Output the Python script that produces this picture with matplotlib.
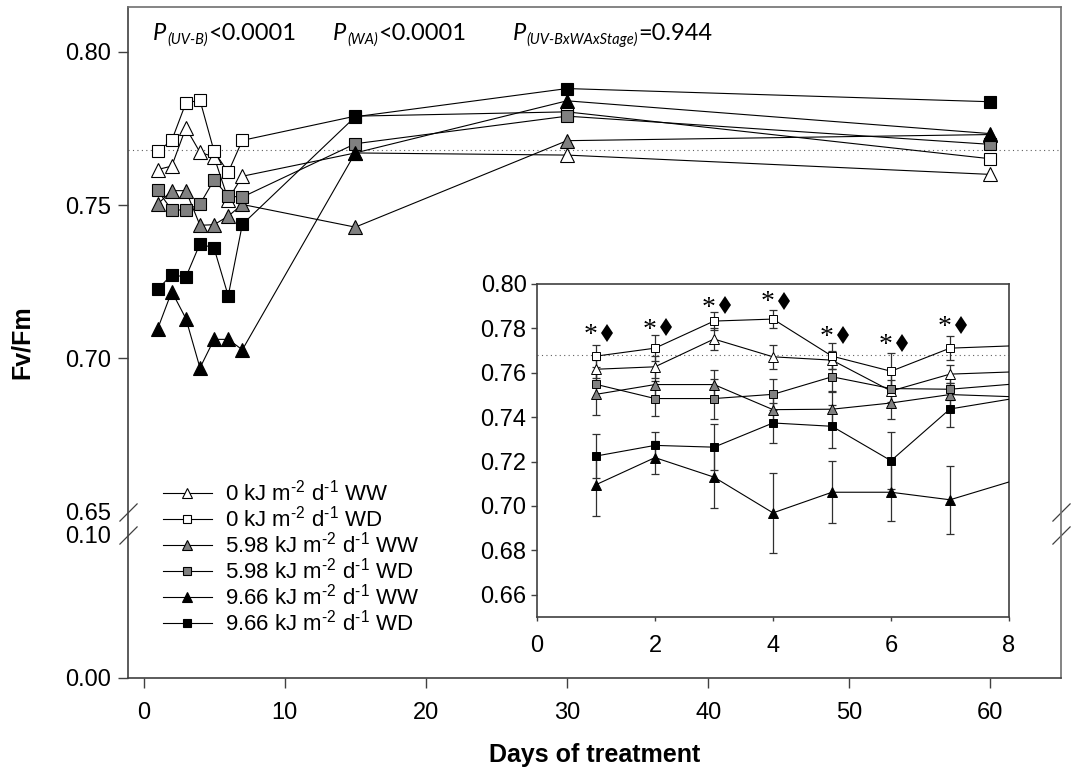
import numpy as np
import matplotlib
matplotlib.use("Agg")
import matplotlib.pyplot as plt

plt.rcParams['font.family'] = ['Liberation Sans', 'DejaVu Sans']
plt.rcParams['mathtext.fontset'] = 'custom'
plt.rcParams['mathtext.rm'] = 'Liberation Sans'
plt.rcParams['mathtext.it'] = 'Liberation Sans:italic'
plt.rcParams['axes.unicode_minus'] = False

# data
days = [1, 2, 3, 4, 5, 6, 7, 15, 30, 60]

ww_0 = [0.7616, 0.7627, 0.7752, 0.7672, 0.7657, 0.7518, 0.7594, 0.7670, 0.7663, 0.7600]
wd_0 = [0.7675, 0.7711, 0.7833, 0.7842, 0.7675, 0.7607, 0.7711, 0.7790, 0.7804, 0.7651]
ww_598 = [0.7503, 0.7547, 0.7547, 0.7434, 0.7436, 0.7464, 0.7502, 0.7428, 0.7710, 0.7730]
wd_598 = [0.7548, 0.7484, 0.7484, 0.7503, 0.7582, 0.7529, 0.7526, 0.7700, 0.7790, 0.7698]
ww_966 = [0.7096, 0.7218, 0.7130, 0.6969, 0.7062, 0.7062, 0.7028, 0.7670, 0.7840, 0.7733]
wd_966 = [0.7225, 0.7273, 0.7265, 0.7374, 0.7359, 0.7204, 0.7437, 0.7788, 0.7880, 0.7837]

# standard errors, days 1-7 (inset)
se_ww_0 = [0.0040, 0.0050, 0.0050, 0.0055, 0.0040, 0.0050, 0.0040]
se_wd_0 = [0.0050, 0.0060, 0.0042, 0.0039, 0.0060, 0.0080, 0.0054]
se_ww_598 = [0.0095, 0.0060, 0.0065, 0.0070, 0.0080, 0.0070, 0.0050]
se_wd_598 = [0.0060, 0.0080, 0.0090, 0.0070, 0.0070, 0.0080, 0.0050]
se_ww_966 = [0.0139, 0.0073, 0.0138, 0.0180, 0.0140, 0.0130, 0.0153]
se_wd_966 = [0.0100, 0.0060, 0.0103, 0.0090, 0.0096, 0.0129, 0.0080]

labels = [r"0 kJ m$^{\text{-}2}$ d$^{\text{-}1}$ WW", r"0 kJ m$^{\text{-}2}$ d$^{\text{-}1}$ WD",
          r"5.98 kJ m$^{\text{-}2}$ d$^{\text{-}1}$ WW", r"5.98 kJ m$^{\text{-}2}$ d$^{\text{-}1}$ WD",
          r"9.66 kJ m$^{\text{-}2}$ d$^{\text{-}1}$ WW", r"9.66 kJ m$^{\text{-}2}$ d$^{\text{-}1}$ WD"]

# significance marks in the inset
sig_days = [1, 2, 3, 4, 5, 6, 7]
star_y = [0.7801, 0.7824, 0.7923, 0.7950, 0.7792, 0.7756, 0.7837]
diam_y = [0.7779, 0.7806, 0.7905, 0.7923, 0.7770, 0.7734, 0.7815]

ref_line = 0.768

p_texts = [("(UV-B)", "<0.0001"), ("(WA)", "<0.0001"), ("(UV-BxWAxStage)", "=0.944")]

series = [
    (ww_0, se_ww_0, '^', 'white'),
    (wd_0, se_wd_0, 's', 'white'),
    (ww_598, se_ww_598, '^', '#808080'),
    (wd_598, se_wd_598, 's', '#808080'),
    (ww_966, se_ww_966, '^', 'black'),
    (wd_966, se_wd_966, 's', 'black'),
]

# broken y axis: 0-0.10 and 0.65-0.82 on one axes
xp = [-1.0, 0.0, 0.10, 0.65, 2.0]
fp = [-1430.0, 0.0, 143.0, 166.0, 166.0 + 1.35 * 3060.0]


def fwd(v):
    return np.interp(v, xp, fp)


def inv(u):
    return np.interp(u, fp, xp)


spine_col = '#404040'

fig = plt.figure(figsize=(10.72, 7.81), dpi=100)
ax = fig.add_axes([128 / 1072, 103 / 781, 933 / 1072, 671 / 781])
ax.set_yscale('function', functions=(fwd, inv))

for (vals, se, mk, fc), lab in zip(series, labels):
    ax.plot(days, vals, color='black', lw=0.8, marker=mk,
            ms=10 if mk == '^' else 8, mfc=fc, mec='black', mew=0.8, label=lab)

ax.axhline(ref_line, ls=(0, (1, 3)), color='#606060', lw=0.8, zorder=0)

ax.set_xlim(-1.1, 65)
ax.set_ylim(0, 0.8146)
ax.set_xticks(range(0, 61, 10))
ax.set_yticks([0.0, 0.10, 0.65, 0.70, 0.75, 0.80])
ax.set_yticklabels(["0.00", "0.10", "0.65", "0.70", "0.75", "0.80"])
for t in ax.yaxis.get_major_ticks()[1:3]:
    t.tick1line.set_visible(False)
ax.tick_params(axis='x', labelsize=17, length=7, width=1, color=spine_col, pad=10)
ax.tick_params(axis='y', labelsize=17, length=7, width=1, color=spine_col, pad=5)
for name, sp in ax.spines.items():
    sp.set_color(spine_col if name in ('left', 'bottom') else '#707070')
    sp.set_linewidth(1.2)

# break marks on both sides
brk = dict(marker=[(-1, -1), (1, 1)], markersize=13, linestyle='none',
           color=spine_col, mec=spine_col, mew=0.9, clip_on=False)
ax.plot([0, 0, 1, 1], [0.65, 0.10, 0.65, 0.10], transform=ax.get_yaxis_transform(), **brk)

ax.set_xlabel("Days of treatment", fontsize=18, fontweight='bold', labelpad=14)
fig.text(22 / 1072, 1 - 342 / 781, "Fv/Fm", rotation=90, fontsize=18,
         fontweight='bold', ha='center', va='center')

# P values at the top
p_x = [0.027, 0.220, 0.412]
for px, (sub, rest) in zip(p_x, p_texts):
    t = ax.text(px, 0.945, "P", transform=ax.transAxes, fontsize=17,
                family='Lato', fontstyle='italic', va='bottom')
    s = ax.annotate(sub, xy=(1, 0), xycoords=t, xytext=(0.5, 0), textcoords='offset points',
                    fontsize=10.5, family='Lato', fontstyle='italic', va='baseline')
    ax.annotate(rest, xy=(1, 0), xycoords=(s, t), fontsize=17, family='Lato', va='bottom')

leg = ax.legend(loc='upper left', bbox_to_anchor=(163 / 1072, 1 - 480 / 781),
                bbox_transform=fig.transFigure, frameon=False, fontsize=16,
                handlelength=2.2, handletextpad=0.6, labelspacing=0.0,
                borderpad=0, borderaxespad=0, markerscale=0.75)

# inset with days 0-8
ins = fig.add_axes([537 / 1072, 164 / 781, 472 / 1072, 333 / 781])
for vals, se, mk, fc in series:
    ins.errorbar(days[:7], vals[:7], yerr=se, fmt='none', ecolor='#303030',
                 elinewidth=0.9, capsize=3, capthick=0.9, zorder=2)
for vals, se, mk, fc in series:
    ins.plot(days, vals, color='black', lw=0.8, marker=mk,
             ms=7 if mk == '^' else 6, mfc=fc, mec='black', mew=0.7, zorder=3)
ins.axhline(ref_line, ls=(0, (1, 3)), color='#606060', lw=0.8, zorder=1)

for d, sy, dy in zip(sig_days, star_y, diam_y):
    ins.annotate("*", xy=(d - 0.1, sy), xytext=(0, -10), textcoords='offset points',
                 ha='center', va='baseline', fontsize=20, family='Liberation Serif')
    ins.plot(d + 0.18, dy, marker='d', ms=9.5, mew=0, color='black', zorder=4)

ins.set_xlim(0, 8)
ins.set_ylim(0.65, 0.80)
ins.set_xticks([0, 2, 4, 6, 8])
ins.set_yticks(np.arange(0.66, 0.801, 0.02))
ins.yaxis.set_major_formatter(matplotlib.ticker.FormatStrFormatter('%.2f'))
ins.tick_params(axis='x', labelsize=17, length=3, width=1, color=spine_col, pad=10)
ins.tick_params(axis='y', labelsize=17, length=4, width=1, color=spine_col, pad=3.5)
for sp in ins.spines.values():
    sp.set_color(spine_col)
    sp.set_linewidth(1.2)

fig.savefig("out.png", dpi=100)
